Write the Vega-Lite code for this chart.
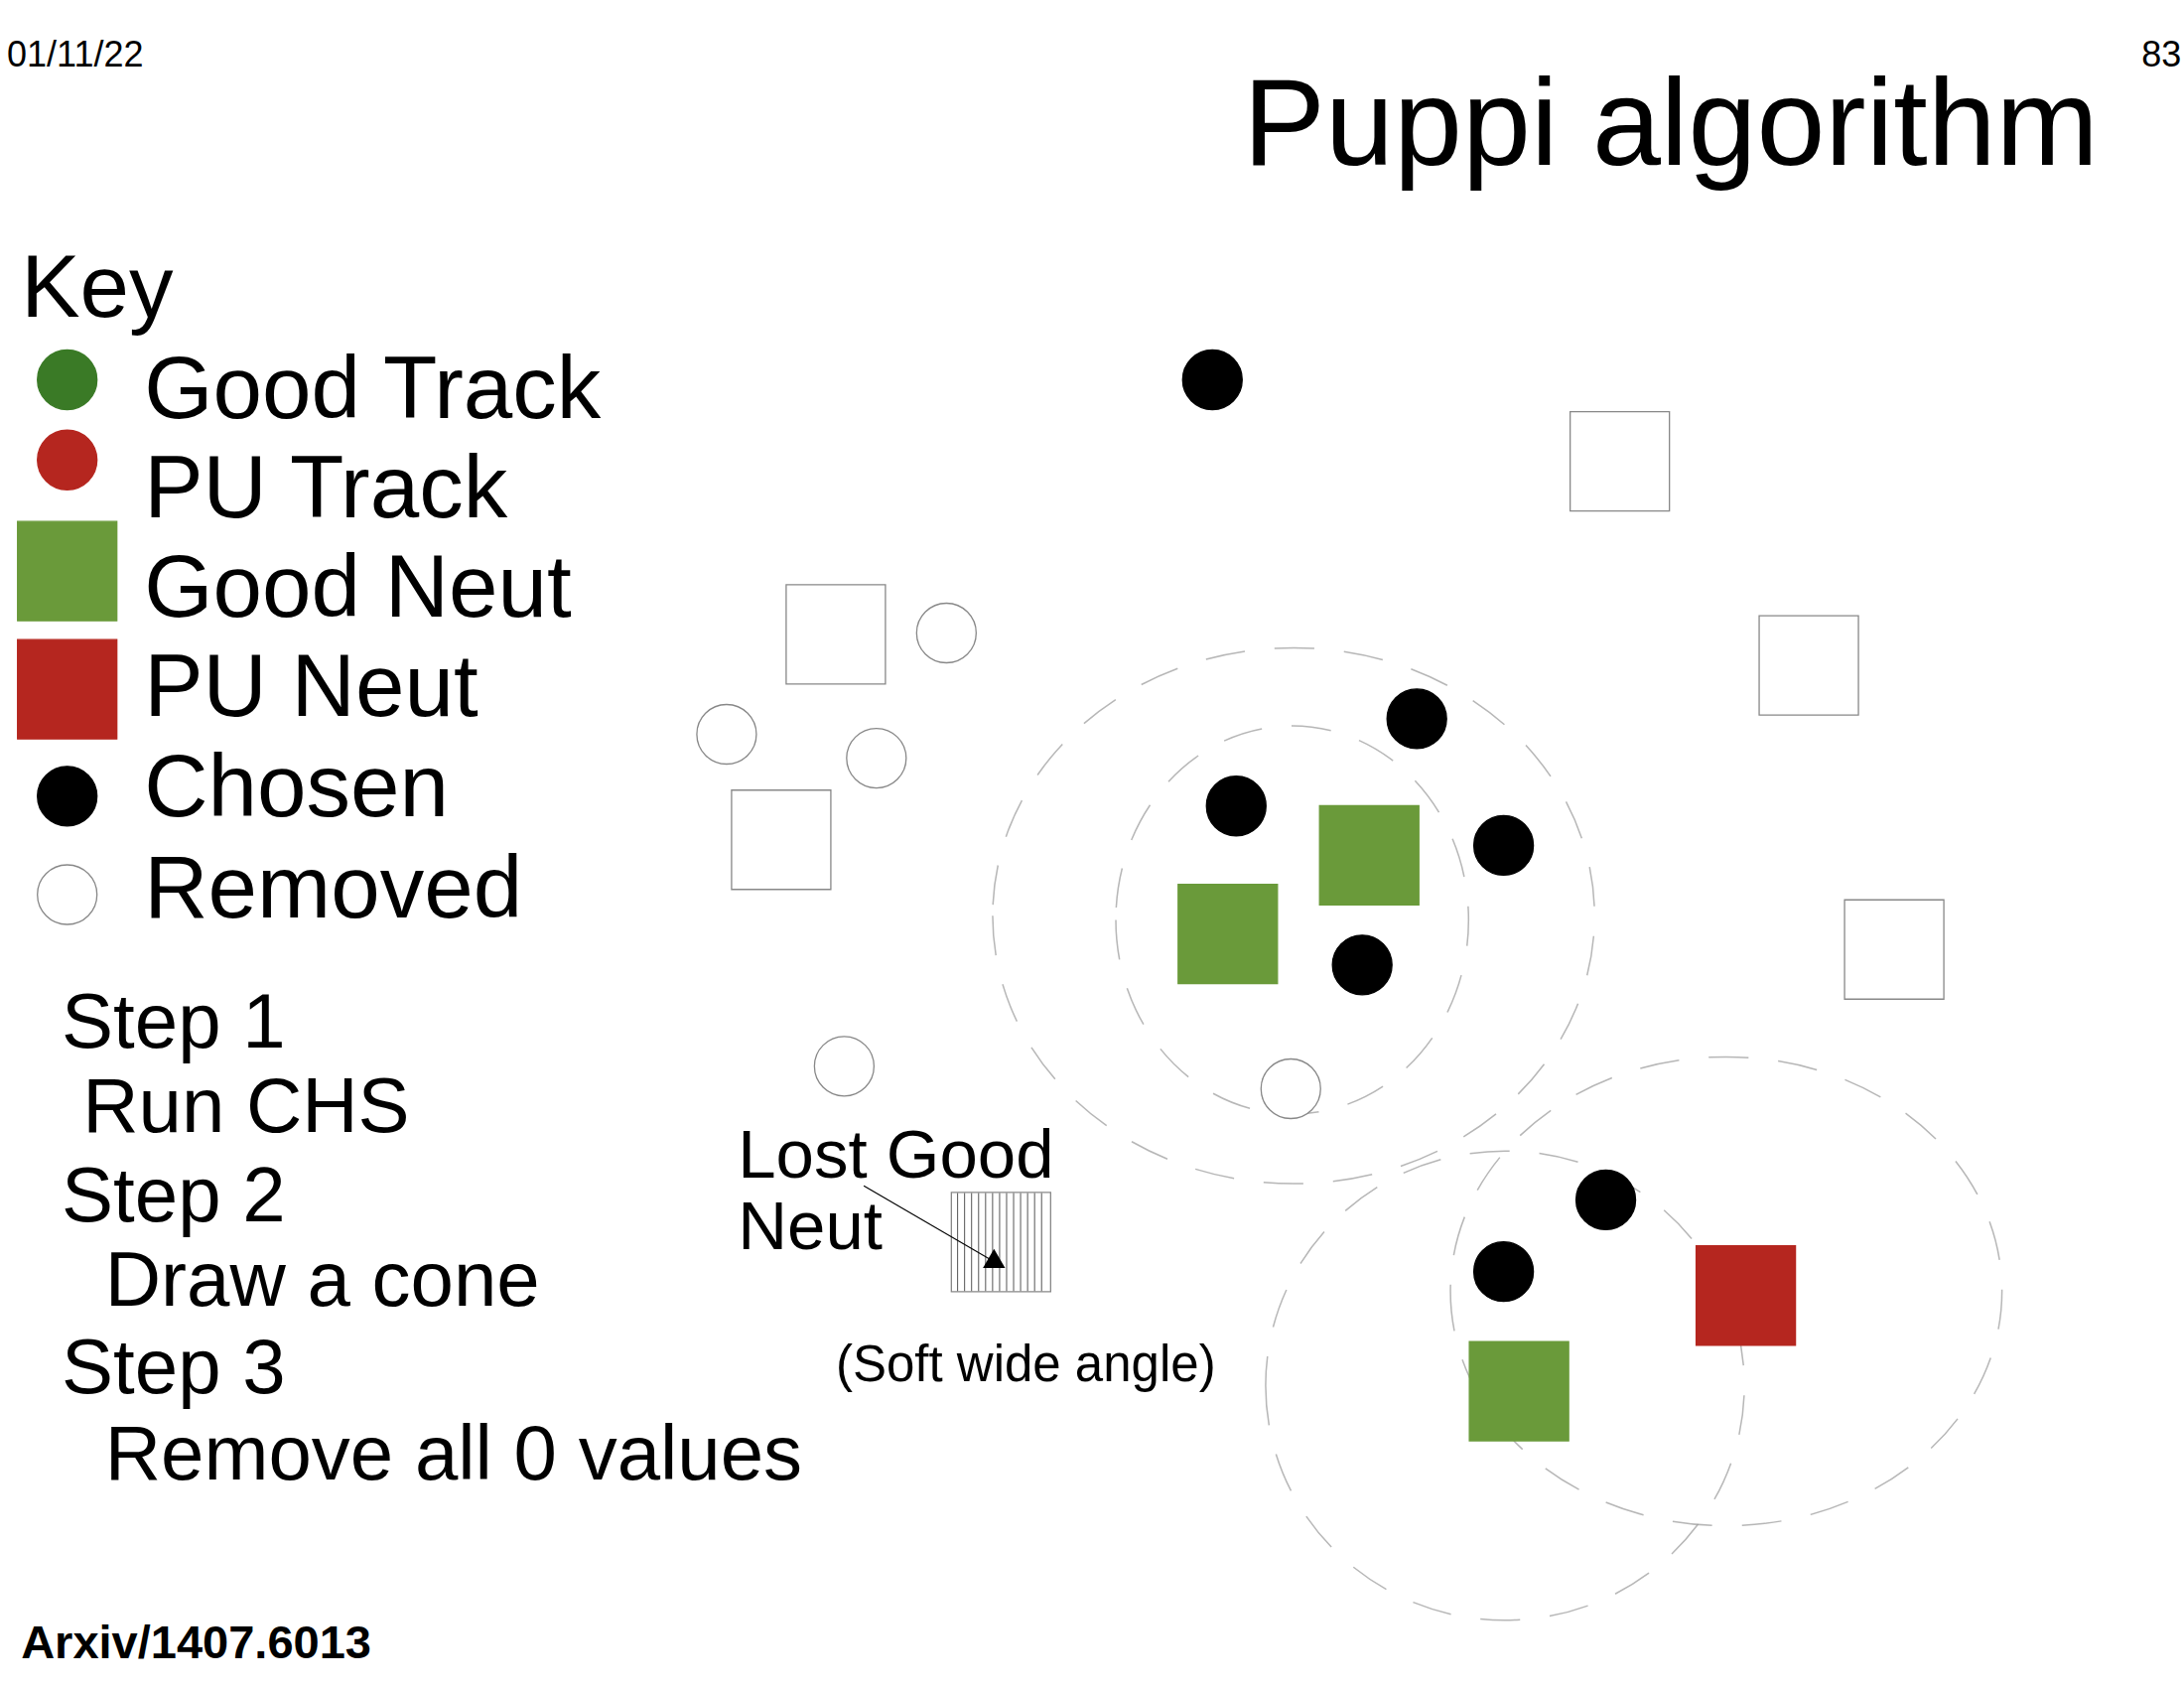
{
  "$schema": "https://vega.github.io/schema/vega-lite/v6.json",
  "width": 2200,
  "height": 1700,
  "autosize": {"type": "fit", "contains": "padding"},
  "padding": 0,
  "background": "white",
  "config": {"view": {"stroke": null}, "text": {"font": "Liberation Sans", "align": "left", "baseline": "alphabetic"}},
  "resolve": {"scale": {"fill": "independent", "stroke": "independent"}},
  "datasets": {
    "texts": [
      {"g": "small", "t": "01/11/22", "x": 5, "y": 47},
      {"g": "title", "t": "Puppi algorithm", "x": 888, "y": 117},
      {"g": "big", "t": "Key", "x": 15, "y": 225},
      {"g": "big", "t": "Good Track", "x": 103, "y": 297},
      {"g": "big", "t": "PU Track", "x": 103, "y": 368},
      {"g": "big", "t": "Good Neut", "x": 103, "y": 438},
      {"g": "big", "t": "PU Neut", "x": 103, "y": 509},
      {"g": "big", "t": "Chosen", "x": 103, "y": 580},
      {"g": "big", "t": "Removed", "x": 103, "y": 652},
      {"g": "step", "t": "Step 1", "x": 44, "y": 745},
      {"g": "step", "t": "Run CHS", "x": 59, "y": 805},
      {"g": "step", "t": "Step 2", "x": 44, "y": 868},
      {"g": "step", "t": "Draw a cone", "x": 75, "y": 928},
      {"g": "step", "t": "Step 3", "x": 44, "y": 990},
      {"g": "step", "t": "Remove all 0 values", "x": 75, "y": 1052},
      {"g": "lost", "t": "Lost Good", "x": 527, "y": 837},
      {"g": "lost", "t": "Neut", "x": 527, "y": 888},
      {"g": "soft", "t": "(Soft wide angle)", "x": 597, "y": 982},
      {"g": "arxiv", "t": "Arxiv/1407.6013", "x": 15, "y": 1179}
    ],
    "particles": [
      {"kind": "Good Track", "x": 48, "y": 270},
      {"kind": "PU Track", "x": 48, "y": 327},
      {"kind": "Good Neut", "x": 48, "y": 406},
      {"kind": "PU Neut", "x": 48, "y": 490},
      {"kind": "Chosen", "x": 48, "y": 566},
      {"kind": "Removed", "x": 48, "y": 636},
      {"kind": "Chosen", "x": 866, "y": 270},
      {"kind": "Chosen", "x": 1012, "y": 511},
      {"kind": "Chosen", "x": 883, "y": 573},
      {"kind": "Chosen", "x": 1074, "y": 601},
      {"kind": "Chosen", "x": 973, "y": 686},
      {"kind": "Chosen", "x": 1147, "y": 853},
      {"kind": "Chosen", "x": 1074, "y": 904},
      {"kind": "Removed Neut", "x": 1157, "y": 328},
      {"kind": "Removed Neut", "x": 597, "y": 451},
      {"kind": "Removed Neut", "x": 1292, "y": 473},
      {"kind": "Removed Neut", "x": 558, "y": 597},
      {"kind": "Removed Neut", "x": 1353, "y": 675},
      {"kind": "Removed Neut", "x": 715, "y": 883},
      {"kind": "Removed", "x": 676, "y": 450},
      {"kind": "Removed", "x": 519, "y": 522},
      {"kind": "Removed", "x": 626, "y": 539},
      {"kind": "Removed", "x": 603, "y": 758},
      {"kind": "Removed", "x": 922, "y": 774},
      {"kind": "Good Neut", "x": 978, "y": 608},
      {"kind": "Good Neut", "x": 877, "y": 664},
      {"kind": "Good Neut", "x": 1085, "y": 989},
      {"kind": "PU Neut", "x": 1247, "y": 921}
    ],
    "cones": [
      {"cone": "A", "x": 924, "y": 651, "r": 215},
      {"cone": "B", "x": 923, "y": 654, "r": 126},
      {"cone": "C", "x": 1233, "y": 918, "r": 197},
      {"cone": "D", "x": 1075, "y": 985, "r": 171}
    ],
    "hatch": [
      {"x": 684}, {"x": 689}, {"x": 694}, {"x": 699}, {"x": 704}, {"x": 709},
      {"x": 714}, {"x": 719}, {"x": 724}, {"x": 729}, {"x": 734}, {"x": 739}, {"x": 744}
    ],
    "arrow": [{"x": 617, "y": 843, "x2": 712, "y2": 898}]
  },
  "layer": [
    {
      "data": {"name": "cones"},
      "mark": {"type": "point", "filled": false, "stroke": "#999999", "strokeWidth": 1.5, "strokeDash": [40, 30]},
      "encoding": {
        "x": {"field": "x", "type": "quantitative", "scale": {"domain": [0, 1560]}, "axis": null},
        "y": {"field": "y", "type": "quantitative", "scale": {"domain": [0, 1200], "reverse": true}, "axis": null},
        "size": {"field": "r", "type": "quantitative", "scale": {"type": "pow", "exponent": 2, "domain": [0, 1000], "range": [0, 7952400]}, "legend": null},
        "shape": {"field": "cone", "type": "nominal", "legend": null, "scale": {"domain": ["A", "B", "C", "D"], "range": [
          "M-1,0A1,0.89 0 1,0 1,0A1,0.89 0 1,0 -1,0",
          "M-1,0A1,1.1 0 1,0 1,0A1,1.1 0 1,0 -1,0",
          "M-1,0A1,0.85 0 1,0 1,0A1,0.85 0 1,0 -1,0",
          "M-1,0A1,0.98 0 1,0 1,0A1,0.98 0 1,0 -1,0"
        ]}}
      }
    },
    {
      "data": {"name": "hatch"},
      "mark": {"type": "rule", "color": "#555555", "strokeWidth": 1},
      "encoding": {
        "x": {"field": "x", "type": "quantitative", "scale": {"domain": [0, 1560]}, "axis": null},
        "y": {"datum": 848, "type": "quantitative", "scale": {"domain": [0, 1200], "reverse": true}, "axis": null},
        "y2": {"datum": 918}
      }
    },
    {
      "data": {"name": "particles"},
      "transform": [{"filter": "datum.kind == 'Removed Neut' || datum.kind == 'Good Neut' || datum.kind == 'PU Neut'"}],
      "mark": {"type": "point", "shape": "square", "size": 10000, "strokeWidth": 1.3},
      "encoding": {
        "x": {"field": "x", "type": "quantitative", "scale": {"domain": [0, 1560]}, "axis": null},
        "y": {"field": "y", "type": "quantitative", "scale": {"domain": [0, 1200], "reverse": true}, "axis": null},
        "fill": {"field": "kind", "type": "nominal", "legend": null, "scale": {"domain": ["Removed Neut", "Good Neut", "PU Neut"], "range": ["transparent", "#6a9a3a", "#b5261f"]}},
        "stroke": {"field": "kind", "type": "nominal", "legend": null, "scale": {"domain": ["Removed Neut", "Good Neut", "PU Neut"], "range": ["#888888", "#6a9a3a", "#b5261f"]}},
        "opacity": {"value": 1}
      }
    },
    {
      "data": {"name": "particles"},
      "transform": [{"filter": "datum.kind == 'Removed' || datum.kind == 'Chosen' || datum.kind == 'Good Track' || datum.kind == 'PU Track'"}],
      "mark": {"type": "circle", "size": 3600, "strokeWidth": 1.3},
      "encoding": {
        "x": {"field": "x", "type": "quantitative", "scale": {"domain": [0, 1560]}, "axis": null},
        "y": {"field": "y", "type": "quantitative", "scale": {"domain": [0, 1200], "reverse": true}, "axis": null},
        "fill": {"field": "kind", "type": "nominal", "legend": null, "scale": {"domain": ["Removed", "Chosen", "Good Track", "PU Track"], "range": ["white", "black", "#3a7a26", "#b5261f"]}},
        "stroke": {"field": "kind", "type": "nominal", "legend": null, "scale": {"domain": ["Removed", "Chosen", "Good Track", "PU Track"], "range": ["#888888", "black", "#3a7a26", "#b5261f"]}},
        "opacity": {"value": 1}
      }
    },
    {
      "data": {"name": "arrow"},
      "mark": {"type": "rule", "color": "black", "strokeWidth": 1.2},
      "encoding": {
        "x": {"field": "x", "type": "quantitative", "scale": {"domain": [0, 1560]}, "axis": null},
        "y": {"field": "y", "type": "quantitative", "scale": {"domain": [0, 1200], "reverse": true}, "axis": null},
        "x2": {"field": "x2"},
        "y2": {"field": "y2"}
      }
    },
    {
      "data": {"name": "arrow"},
      "mark": {"type": "point", "shape": "triangle-up", "filled": true, "color": "black", "size": 500, "angle": 120, "opacity": 1},
      "encoding": {
        "x": {"field": "x2", "type": "quantitative", "scale": {"domain": [0, 1560]}, "axis": null},
        "y": {"field": "y2", "type": "quantitative", "scale": {"domain": [0, 1200], "reverse": true}, "axis": null}
      }
    },
    {
      "data": {"name": "texts"},
      "transform": [{"filter": "datum.g == 'small'"}],
      "mark": {"type": "text", "fontSize": 36},
      "encoding": {
        "x": {"field": "x", "type": "quantitative", "scale": {"domain": [0, 1560]}, "axis": null},
        "y": {"field": "y", "type": "quantitative", "scale": {"domain": [0, 1200], "reverse": true}, "axis": null},
        "text": {"field": "t"}
      }
    },
    {
      "data": {"values": [{"t": "83", "x": 1558, "y": 47}]},
      "mark": {"type": "text", "fontSize": 36, "align": "right"},
      "encoding": {
        "x": {"field": "x", "type": "quantitative", "scale": {"domain": [0, 1560]}, "axis": null},
        "y": {"field": "y", "type": "quantitative", "scale": {"domain": [0, 1200], "reverse": true}, "axis": null},
        "text": {"field": "t"}
      }
    },
    {
      "data": {"name": "texts"},
      "transform": [{"filter": "datum.g == 'title'"}],
      "mark": {"type": "text", "fontSize": 124},
      "encoding": {
        "x": {"field": "x", "type": "quantitative", "scale": {"domain": [0, 1560]}, "axis": null},
        "y": {"field": "y", "type": "quantitative", "scale": {"domain": [0, 1200], "reverse": true}, "axis": null},
        "text": {"field": "t"}
      }
    },
    {
      "data": {"name": "texts"},
      "transform": [{"filter": "datum.g == 'big'"}],
      "mark": {"type": "text", "fontSize": 89},
      "encoding": {
        "x": {"field": "x", "type": "quantitative", "scale": {"domain": [0, 1560]}, "axis": null},
        "y": {"field": "y", "type": "quantitative", "scale": {"domain": [0, 1200], "reverse": true}, "axis": null},
        "text": {"field": "t"}
      }
    },
    {
      "data": {"name": "texts"},
      "transform": [{"filter": "datum.g == 'step'"}],
      "mark": {"type": "text", "fontSize": 78},
      "encoding": {
        "x": {"field": "x", "type": "quantitative", "scale": {"domain": [0, 1560]}, "axis": null},
        "y": {"field": "y", "type": "quantitative", "scale": {"domain": [0, 1200], "reverse": true}, "axis": null},
        "text": {"field": "t"}
      }
    },
    {
      "data": {"name": "texts"},
      "transform": [{"filter": "datum.g == 'lost'"}],
      "mark": {"type": "text", "fontSize": 69},
      "encoding": {
        "x": {"field": "x", "type": "quantitative", "scale": {"domain": [0, 1560]}, "axis": null},
        "y": {"field": "y", "type": "quantitative", "scale": {"domain": [0, 1200], "reverse": true}, "axis": null},
        "text": {"field": "t"}
      }
    },
    {
      "data": {"name": "texts"},
      "transform": [{"filter": "datum.g == 'soft'"}],
      "mark": {"type": "text", "fontSize": 51},
      "encoding": {
        "x": {"field": "x", "type": "quantitative", "scale": {"domain": [0, 1560]}, "axis": null},
        "y": {"field": "y", "type": "quantitative", "scale": {"domain": [0, 1200], "reverse": true}, "axis": null},
        "text": {"field": "t"}
      }
    },
    {
      "data": {"name": "texts"},
      "transform": [{"filter": "datum.g == 'arxiv'"}],
      "mark": {"type": "text", "fontSize": 47, "fontWeight": "bold"},
      "encoding": {
        "x": {"field": "x", "type": "quantitative", "scale": {"domain": [0, 1560]}, "axis": null},
        "y": {"field": "y", "type": "quantitative", "scale": {"domain": [0, 1200], "reverse": true}, "axis": null},
        "text": {"field": "t"}
      }
    }
  ]
}
